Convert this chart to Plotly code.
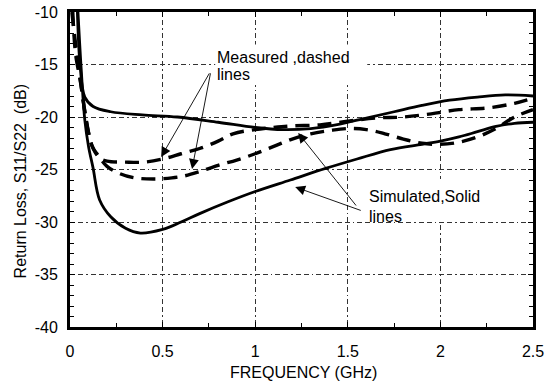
import plotly.graph_objects as go

# ---------------- data ----------------
freq_sim_upper = [0.04, 0.055, 0.08, 0.125, 0.22, 0.39, 0.58, 0.8, 1.0, 1.15, 1.3,
                  1.45, 1.6, 1.75, 1.9, 2.05, 2.2, 2.35, 2.5]
sim_upper = [-10, -15.2, -18.1, -19.0, -19.5, -19.8, -20.0, -20.5, -21.0, -21.2, -21.1,
             -20.7, -20.1, -19.5, -18.9, -18.4, -18.1, -17.9, -18.0]

freq_sim_lower = [0.043, 0.06, 0.08, 0.1, 0.124, 0.16, 0.22, 0.3, 0.38, 0.5, 0.6, 0.7,
                  0.85, 1.0, 1.19, 1.38, 1.55, 1.73, 1.9, 2.0, 2.1, 2.2, 2.3, 2.4, 2.5]
sim_lower = [-10, -15.3, -20.3, -22.8, -24.8, -27.9, -29.5, -30.6, -31.05, -30.7, -30.0,
             -29.2, -28.1, -27.1, -26.0, -24.9, -24.0, -23.1, -22.6, -22.3, -21.9, -21.4,
             -20.9, -20.6, -20.5]

freq_meas_a = [0.015, 0.03, 0.055, 0.08, 0.1, 0.125, 0.16, 0.2, 0.3, 0.4, 0.5, 0.6, 0.7,
               0.8, 0.88, 1.0, 1.1, 1.2, 1.35, 1.5, 1.65, 1.8, 1.95, 2.1, 2.25, 2.4, 2.5]
meas_a = [-10, -14, -16.5, -19.5, -21.5, -23.0, -23.9, -24.2, -24.3, -24.3, -24.0, -23.5,
          -23.0, -22.3, -21.6, -21.2, -21.0, -20.85, -20.75, -20.4, -20.1, -20.0, -19.7,
          -19.3, -19.15, -18.7, -18.2]

freq_meas_b = [0.01, 0.03, 0.06, 0.09, 0.12, 0.15, 0.2, 0.27, 0.35, 0.45, 0.55, 0.62, 0.7,
               0.8, 0.9, 1.0, 1.1, 1.2, 1.3, 1.4, 1.5, 1.6, 1.7, 1.8, 1.9, 2.0, 2.1, 2.2,
               2.3, 2.4, 2.5]
meas_b = [-10, -13, -17, -20.5, -22.8, -23.6, -24.7, -25.4, -25.8, -25.9, -25.8, -25.6,
          -25.2, -24.6, -24.1, -23.5, -22.8, -22.1, -21.6, -21.3, -21.1, -21.2, -21.6,
          -22.1, -22.5, -22.6, -22.4, -21.9, -21.1, -20.0, -19.3]

x_tick_vals = [0, 0.5, 1, 1.5, 2, 2.5]
x_tick_text = ["0", "0.5", "1", "1.5", "2", "2.5"]
y_tick_vals = [-40, -35, -30, -25, -20, -15, -10]
y_tick_text = ["-40", "-35", "-30", "-25", "-20", "-15", "-10"]

x_title = "FREQUENCY (GHz)"
y_title = "Return Loss, S11/S22\u00a0\u00a0(dB)"
measured_lines = ["Measured ,dashed", "lines"]
simulated_lines = ["Simulated,Solid", "lines"]

# ---------------- figure ----------------
FONT = "Liberation Sans, Arial, Helvetica, sans-serif"
fig = go.Figure()

solid = dict(color="black", width=2.8)
dashed = dict(color="black", width=3.4, dash="14px,8px")

fig.add_trace(go.Scatter(x=freq_sim_upper, y=sim_upper, mode="lines", line=solid,
                         line_shape="spline", name="Simulated S11"))
fig.add_trace(go.Scatter(x=freq_sim_lower, y=sim_lower, mode="lines", line=solid,
                         line_shape="spline", name="Simulated S22"))
fig.add_trace(go.Scatter(x=freq_meas_a, y=meas_a, mode="lines", line=dashed,
                         line_shape="spline", name="Measured S11"))
fig.add_trace(go.Scatter(x=freq_meas_b, y=meas_b, mode="lines", line=dashed,
                         line_shape="spline", name="Measured S22"))

grid_dash = "5px,3px,5px,3px,1.5px,3px"
axis_common = dict(
    showline=True, linewidth=3, linecolor="black", mirror="allticks",
    ticks="inside", ticklen=5, tickwidth=1.2, tickcolor="black",
    showgrid=True, gridcolor="#333333", gridwidth=1, griddash=grid_dash,
    zeroline=False, automargin=False,
    tickfont=dict(family=FONT, size=16, color="black"),
)

fig.update_xaxes(range=[0, 2.5], tickvals=x_tick_vals, ticktext=x_tick_text,
                 minor=dict(dtick=0.25, ticks="inside", ticklen=4, tickcolor="black",
                            showgrid=False),
                 ticklabelstandoff=8, **axis_common)
fig.update_yaxes(range=[-40, -10], tickvals=y_tick_vals, ticktext=y_tick_text,
                 minor=dict(dtick=1, ticks="inside", ticklen=4, tickcolor="black",
                            showgrid=False),
                 ticklabelstandoff=6, **axis_common)

# white boxes behind the text labels (hide grid there)
fig.add_shape(type="rect", xref="x", yref="y", x0=0.784, x1=1.605, y0=-16.95, y1=-13.1,
              fillcolor="white", line=dict(width=0), layer="between")
fig.add_shape(type="rect", xref="x", yref="y", x0=1.605, x1=2.26, y0=-30.0, y1=-25.9,
              fillcolor="white", line=dict(width=0), layer="between")

txt_font = dict(family=FONT, size=16, color="black")
ann = []
for text, (x, y) in zip(measured_lines, [(0.785, -14.33), (0.785, -15.95)]):
    ann.append(dict(x=x, y=y, xref="x", yref="y", text=text, showarrow=False,
                    xanchor="left", yanchor="middle", font=txt_font))
for text, (x, y) in zip(simulated_lines, [(1.606, -27.57), (1.606, -29.48)]):
    ann.append(dict(x=x, y=y, xref="x", yref="y", text=text, showarrow=False,
                    xanchor="left", yanchor="middle", font=txt_font))
arrows = [
    ((0.757, -15.7), (0.492, -23.81)),
    ((0.760, -15.7), (0.659, -24.95)),
    ((1.551, -28.57), (1.232, -21.52)),
    ((1.578, -28.95), (1.216, -26.67)),
]
for (ax, ay), (x, y) in arrows:
    ann.append(dict(x=x, y=y, ax=ax, ay=ay, xref="x", yref="y", axref="x", ayref="y",
                    text="", showarrow=True, arrowhead=2, arrowsize=2.2, arrowwidth=0.9,
                    arrowcolor="black", standoff=0, startstandoff=0))
ann.append(dict(x=0.505, y=-0.143, xref="paper", yref="paper", text=x_title,
                showarrow=False, xanchor="center", yanchor="middle", font=txt_font))
ann.append(dict(x=-0.106, y=0.462, xref="paper", yref="paper", text=y_title,
                showarrow=False, xanchor="center", yanchor="middle", textangle=-90,
                font=txt_font))
fig.update_layout(annotations=ann)

fig.update_layout(
    width=547, height=381,
    margin=dict(l=70, r=14, t=12, b=54, autoexpand=False),
    paper_bgcolor="white", plot_bgcolor="white",
    showlegend=False,
    font=dict(family=FONT, size=16, color="black"),
)

fig.write_html("out.html",
               config={"displayModeBar": False},
               post_script="document.body.style.margin='0';"
                           "document.body.style.overflow='hidden';")
